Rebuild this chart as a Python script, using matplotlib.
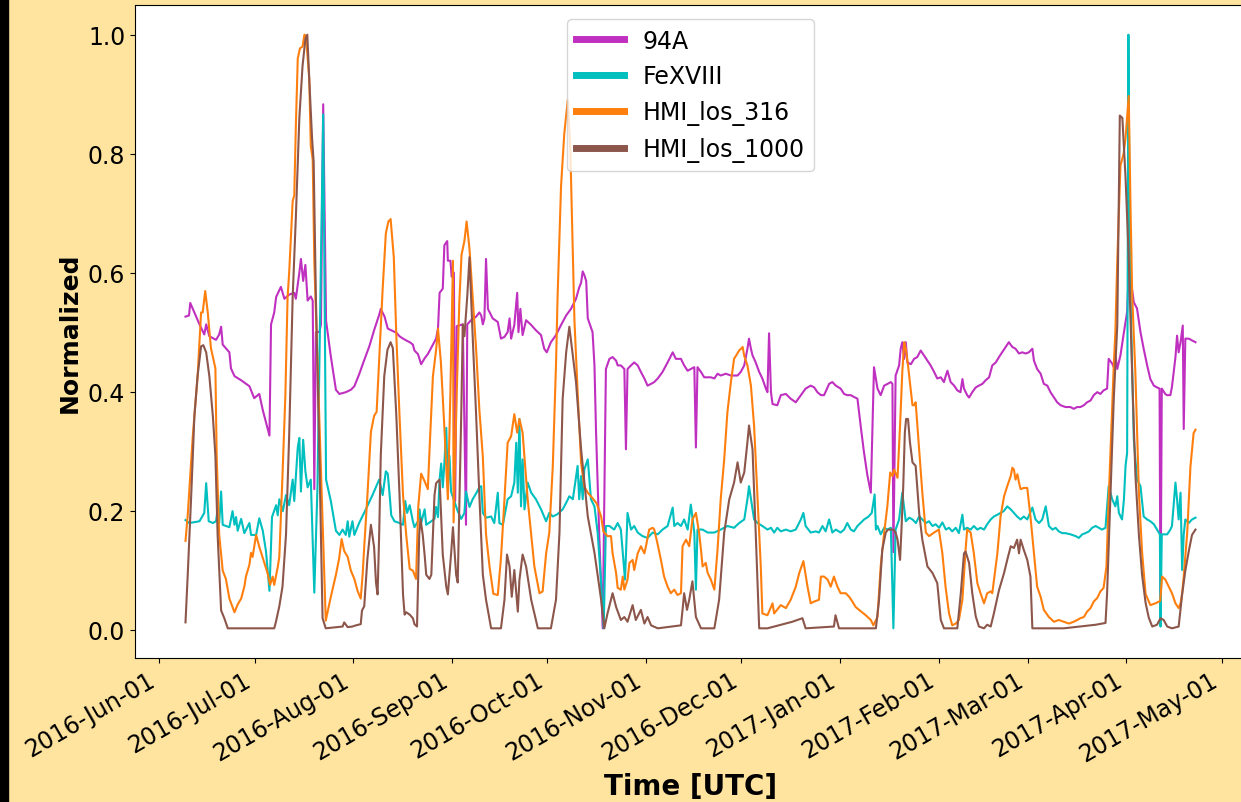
import numpy as np
import matplotlib
matplotlib.use("Agg")
import matplotlib.pyplot as plt
import matplotlib.dates as mdates
from matplotlib.patches import Rectangle

# days since 2016-06-01
t_94a = [8.2, 9.3, 9.7, 12.6, 14.1, 14.7, 15.7, 17.8, 18.8, 19.4, 19.9, 22.0, 22.5, 23.6, 25.7, 28.3, 29.8, 31.4, 32.5, 34.6,
         35.1, 36.1, 36.7, 38.2, 39.3, 40.8, 42.4, 42.9, 44.0, 44.5, 45.2, 45.9, 46.6, 47.6, 48.2, 48.7, 49.2, 50.3, 50.8, 51.5,
         52.4, 53.9, 55.5, 56.6, 58.6, 60.2, 61.3, 62.8, 64.4, 66.0, 67.5, 69.1, 69.6, 70.8, 71.8, 72.9, 74.5, 75.5, 76.6, 77.6,
         78.7, 79.7, 80.2, 81.3, 82.3, 83.4, 84.4, 86.0, 87.0, 87.6, 88.1, 89.1, 89.6, 90.5, 90.7, 91.5, 91.9, 92.6, 93.0, 93.5,
         95.4, 96.4, 96.8, 98.0, 99.6, 100.6, 101.2, 101.7, 102.2, 102.7, 103.3, 104.8, 106.4, 107.4, 108.5, 109.5, 110.1, 110.6,
         111.6, 112.5, 112.9, 113.5, 114.2, 115.3, 116.9, 118.4, 120.0, 121.0, 121.8, 123.1, 124.7, 126.3, 127.9, 129.4, 131.0,
         132.0, 132.6, 133.1, 133.6, 134.2, 134.7, 136.2, 136.8, 137.3, 138.3, 139.4, 140.4, 141.5, 142.5, 143.6, 144.1, 145.1,
         146.2, 146.7, 147.2, 148.3, 149.3, 150.4, 151.4, 152.5, 153.5, 154.6, 155.6, 156.7, 158.2, 159.8, 161.4, 162.4, 164.0,
         165.0, 166.1, 167.1, 168.2, 168.7, 169.2, 170.3, 171.3, 173.4, 174.5, 175.5, 176.5, 178.1, 179.7, 181.8, 182.8, 183.9,
         184.9, 185.4, 186.0, 186.5, 187.5, 188.6, 189.6, 190.7, 191.2, 191.7, 192.3, 192.8, 194.3, 195.4, 197.0, 198.5, 200.1,
         201.7, 203.2, 204.8, 205.9, 206.9, 208.0, 209.0, 210.6, 211.6, 212.7, 214.2, 215.3, 216.3, 217.4, 218.4, 219.5, 220.5,
         221.5, 222.6, 223.7, 224.7, 225.8, 226.8, 227.9, 229.0, 230.0, 230.5, 230.8, 231.5, 232.6, 233.1, 233.6, 234.2, 234.7,
         235.2, 236.3, 237.3, 238.3, 239.4, 240.4, 241.5, 242.5, 243.6, 244.6, 245.7, 246.7, 247.3, 247.8, 248.8, 249.9, 250.9,
         251.9, 252.5, 253.0, 254.0, 254.6, 255.6, 256.7, 257.7, 258.8, 259.8, 260.9, 261.9, 263.0, 264.0, 265.0, 266.1, 267.1,
         268.2, 269.2, 270.3, 271.3, 272.4, 273.4, 274.5, 275.0, 276.0, 277.1, 278.1, 279.2, 280.2, 281.3, 282.3, 283.4, 284.9,
         286.5, 287.5, 288.6, 289.6, 290.7, 291.7, 292.8, 293.8, 294.9, 295.9, 296.9, 298.0, 298.5, 299.6, 300.1, 300.6, 301.2,
         302.2, 303.3, 304.3, 304.8, 305.9, 306.4, 307.4, 308.5, 309.5, 310.6, 311.6, 312.7, 313.7, 314.5, 314.8, 315.2, 316.3,
         316.8, 317.9, 318.4, 319.5, 320.0, 320.5, 321.1, 321.8, 322.1, 322.6, 323.7, 324.7, 325.8]
v_94a = [0.526, 0.528, 0.549, 0.513, 0.496, 0.513, 0.493, 0.487, 0.496, 0.509, 0.479, 0.466, 0.439, 0.426, 0.419, 0.409, 0.389, 0.396, 0.369, 0.326,
         0.513, 0.533, 0.559, 0.576, 0.556, 0.563, 0.566, 0.556, 0.600, 0.623, 0.586, 0.613, 0.553, 0.560, 0.553, 0.236, 0.500, 0.500, 0.513, 0.883,
         0.519, 0.459, 0.403, 0.396, 0.399, 0.403, 0.409, 0.429, 0.453, 0.476, 0.503, 0.529, 0.539, 0.526, 0.506, 0.503, 0.499, 0.493, 0.489, 0.486,
         0.483, 0.479, 0.469, 0.463, 0.446, 0.456, 0.463, 0.479, 0.489, 0.506, 0.566, 0.573, 0.646, 0.653, 0.620, 0.620, 0.593, 0.600, 0.216, 0.510,
         0.513, 0.176, 0.513, 0.520, 0.526, 0.533, 0.528, 0.513, 0.523, 0.623, 0.539, 0.523, 0.517, 0.489, 0.492, 0.500, 0.523, 0.489,
         0.512, 0.566, 0.500, 0.539, 0.495, 0.520, 0.512, 0.503, 0.495, 0.472, 0.466, 0.483, 0.495, 0.512, 0.528, 0.539, 0.556,
         0.575, 0.583, 0.602, 0.596, 0.586, 0.523, 0.500, 0.444, 0.332, 0.160, 0.002, 0.438, 0.455, 0.458, 0.452, 0.444, 0.444,
         0.438, 0.303, 0.438, 0.444, 0.449, 0.444, 0.433, 0.422, 0.410, 0.413, 0.416, 0.422, 0.433, 0.449, 0.466, 0.455, 0.455,
         0.444, 0.435, 0.438, 0.441, 0.306, 0.441, 0.433, 0.424, 0.424, 0.422, 0.430, 0.427, 0.430, 0.427, 0.427, 0.433, 0.444,
         0.472, 0.489, 0.472, 0.461, 0.449, 0.433, 0.422, 0.405, 0.399, 0.498, 0.399, 0.379, 0.377, 0.394, 0.396, 0.388, 0.382,
         0.394, 0.405, 0.410, 0.407, 0.399, 0.394, 0.394, 0.413, 0.416, 0.410, 0.405, 0.396, 0.394, 0.394, 0.391, 0.388, 0.343,
         0.300, 0.260, 0.230, 0.441, 0.405, 0.394, 0.410, 0.413, 0.416, 0.413, 0.130, 0.427, 0.444, 0.472, 0.483, 0.455, 0.483,
         0.449, 0.446, 0.455, 0.458, 0.469, 0.461, 0.452, 0.444, 0.433, 0.422, 0.424, 0.416, 0.427, 0.435, 0.416, 0.410, 0.402,
         0.399, 0.421, 0.405, 0.394, 0.390, 0.399, 0.407, 0.410, 0.413, 0.419, 0.424, 0.444, 0.449, 0.458, 0.466, 0.475, 0.483,
         0.475, 0.472, 0.464, 0.466, 0.464, 0.466, 0.472, 0.452, 0.438, 0.430, 0.413, 0.410, 0.399, 0.390, 0.382, 0.377, 0.374,
         0.374, 0.371, 0.374, 0.374, 0.377, 0.382, 0.385, 0.394, 0.399, 0.396, 0.402, 0.405, 0.455, 0.447, 0.441, 0.461, 0.438,
         0.461, 0.500, 0.534, 0.600, 0.570, 0.550, 0.540, 0.500, 0.472, 0.444, 0.421, 0.410, 0.407, 0.405, 0.010, 0.405, 0.396,
         0.394, 0.394, 0.408, 0.458, 0.494, 0.466, 0.483, 0.511, 0.337, 0.489, 0.489, 0.486, 0.483]

t_fe = [8.2, 9.4, 12.6, 14.1, 14.7, 15.5, 16.8, 17.8, 18.3, 18.8, 19.4, 19.9, 22.0, 23.0, 23.6, 24.1, 24.6, 25.7, 26.7, 28.3,
        28.8, 30.4, 31.4, 32.5, 33.5, 34.6, 35.4, 36.7, 37.2, 37.7, 38.8, 39.8, 40.8, 41.9, 42.4, 43.5, 44.0, 44.5, 45.2, 45.9,
        46.6, 47.6, 48.7, 49.7, 51.5, 52.4, 53.9, 55.5, 56.6, 57.6, 58.6, 59.2, 59.7, 60.7, 61.3, 62.8, 64.9, 67.0, 69.1, 70.2,
        71.2, 71.8, 72.4, 72.9, 73.9, 75.5, 76.6, 77.3, 77.9, 78.7, 79.7, 80.2, 81.3, 81.8, 82.3, 83.4, 83.9, 85.5, 86.5, 87.0,
        87.6, 88.1, 88.6, 89.1, 89.6, 90.2, 90.7, 91.2, 91.7, 93.8, 94.9, 95.9, 96.4, 97.5, 98.5, 99.6, 100.6, 101.2, 101.7, 102.7,
        104.3, 105.3, 106.4, 106.9, 108.0, 109.5, 110.6, 111.6, 112.2, 112.7, 113.2, 113.7, 114.2, 114.8, 115.8, 116.9, 118.4,
        120.0, 121.6, 122.6, 123.7, 125.2, 126.8, 127.9, 128.9, 130.0, 131.5, 132.0, 132.6, 133.1, 133.6, 134.7, 135.7, 136.8,
        137.8, 138.9, 139.7, 140.4, 141.5, 143.0, 144.1, 145.1, 146.4, 147.2, 148.3, 149.3, 150.4, 151.9, 153.5, 155.1, 156.7,
        158.2, 159.8, 161.4, 161.9, 162.9, 164.0, 165.0, 166.1, 167.1, 168.2, 168.7, 169.2, 170.8, 172.4, 174.5, 176.5, 178.6,
        180.7, 182.3, 183.9, 184.9, 185.4, 186.2, 187.0, 188.1, 189.6, 191.2, 192.3, 193.3, 194.3, 195.4, 197.0, 198.5, 200.1,
        201.7, 202.5, 203.2, 204.8, 206.4, 207.4, 208.5, 209.5, 210.6, 211.6, 212.7, 214.2, 215.3, 216.3, 217.4, 218.4, 219.5,
        221.6, 223.0, 224.0, 224.9, 225.3, 225.8, 226.8, 227.9, 228.9, 230.0, 230.8, 231.5, 232.6, 233.6, 234.7, 235.8, 236.8,
        237.9, 238.9, 239.9, 241.0, 242.0, 243.1, 244.1, 245.2, 246.2, 247.3, 248.3, 249.3, 250.4, 251.4, 252.5, 253.0, 254.0,
        255.1, 256.1, 257.2, 258.2, 259.3, 260.3, 261.4, 262.4, 263.5, 264.5, 265.5, 266.6, 267.7, 268.7, 269.7, 270.8, 271.8,
        272.9, 274.5, 275.5, 276.6, 277.6, 278.7, 279.7, 280.8, 281.8, 282.8, 283.9, 284.9, 286.5, 288.1, 289.1, 290.2, 291.2,
        292.3, 293.3, 294.4, 295.4, 296.4, 297.5, 298.5, 299.6, 300.6, 301.2, 301.7, 302.7, 303.3, 303.8, 304.3, 304.7, 304.9,
        305.4, 306.4, 307.4, 308.5, 309.5, 310.6, 311.6, 312.7, 313.7, 314.6, 314.8, 315.2, 316.3, 316.9, 317.9, 318.4, 319.5,
        320.0, 320.5, 321.1, 321.6, 322.1, 322.6, 323.7, 324.7, 325.8]
v_fe = [0.184, 0.179, 0.182, 0.196, 0.246, 0.182, 0.179, 0.182, 0.202, 0.179, 0.232, 0.176, 0.172, 0.199, 0.176, 0.189, 0.166, 0.186, 0.162, 0.179,
        0.159, 0.159, 0.187, 0.166, 0.132, 0.065, 0.189, 0.209, 0.192, 0.219, 0.199, 0.226, 0.209, 0.252, 0.216, 0.306, 0.322, 0.232, 0.319, 0.266,
        0.239, 0.252, 0.062, 0.239, 0.866, 0.252, 0.216, 0.166, 0.159, 0.168, 0.159, 0.182, 0.156, 0.182, 0.159, 0.179, 0.202, 0.226, 0.252, 0.226,
        0.266, 0.262, 0.226, 0.192, 0.182, 0.179, 0.176, 0.216, 0.196, 0.209, 0.182, 0.172, 0.182, 0.202, 0.179, 0.202, 0.176, 0.182, 0.186, 0.206,
        0.189, 0.252, 0.279, 0.239, 0.279, 0.339, 0.239, 0.292, 0.232, 0.199, 0.186, 0.196, 0.232, 0.206, 0.219, 0.229, 0.239, 0.241, 0.196, 0.188,
        0.190, 0.179, 0.230, 0.179, 0.176, 0.219, 0.224, 0.247, 0.314, 0.230, 0.354, 0.207, 0.286, 0.202, 0.247, 0.230, 0.219,
        0.202, 0.182, 0.196, 0.190, 0.194, 0.202, 0.213, 0.224, 0.219, 0.275, 0.219, 0.258, 0.219, 0.269, 0.286, 0.219, 0.207,
        0.163, 0.078, 0.002, 0.174, 0.174, 0.168, 0.179, 0.168, 0.084, 0.196, 0.168, 0.174, 0.163, 0.157, 0.154, 0.163, 0.160,
        0.168, 0.174, 0.205, 0.174, 0.179, 0.174, 0.185, 0.168, 0.210, 0.163, 0.067, 0.168, 0.168, 0.163, 0.163, 0.168, 0.174,
        0.171, 0.179, 0.185, 0.219, 0.241, 0.213, 0.185, 0.179, 0.174, 0.168, 0.171, 0.163, 0.171, 0.165, 0.168, 0.165, 0.168,
        0.185, 0.196, 0.174, 0.163, 0.165, 0.163, 0.174, 0.165, 0.185, 0.163, 0.168, 0.163, 0.168, 0.179, 0.168, 0.165, 0.174,
        0.185, 0.190, 0.196, 0.227, 0.168, 0.174, 0.160, 0.171, 0.168, 0.171, 0.002, 0.168, 0.185, 0.230, 0.182, 0.188, 0.185,
        0.179, 0.190, 0.185, 0.179, 0.182, 0.174, 0.177, 0.171, 0.180, 0.168, 0.171, 0.165, 0.171, 0.162, 0.193, 0.168, 0.171,
        0.168, 0.174, 0.168, 0.171, 0.168, 0.177, 0.185, 0.190, 0.193, 0.196, 0.199, 0.207, 0.202, 0.196, 0.190, 0.185, 0.190,
        0.185, 0.205, 0.185, 0.179, 0.185, 0.207, 0.174, 0.168, 0.171, 0.165, 0.162, 0.162, 0.160, 0.157, 0.154, 0.160, 0.162,
        0.165, 0.171, 0.174, 0.171, 0.168, 0.171, 0.241, 0.219, 0.207, 0.224, 0.196, 0.185, 0.219, 0.275, 0.297, 1.000, 0.826,
        0.550, 0.320, 0.252, 0.241, 0.190, 0.185, 0.182, 0.177, 0.168, 0.160, 0.005, 0.160, 0.160, 0.160, 0.168, 0.174, 0.247,
        0.219, 0.185, 0.230, 0.100, 0.160, 0.185, 0.179, 0.185, 0.188]

t_316 = [8.2, 8.9, 10.5, 12.0, 13.1, 13.6, 14.4, 15.2, 16.2, 17.6, 18.0, 18.8, 19.9, 20.9, 22.0, 23.6, 24.6, 25.7, 26.7, 27.2,
         28.3, 28.8, 29.3, 30.4, 31.4, 33.0, 34.0, 34.8, 35.6, 36.1, 37.2, 37.7, 38.7, 39.6, 40.3, 40.8, 41.9, 42.4, 42.9, 43.5,
         44.2, 45.0, 45.6, 46.1, 47.1, 47.6, 48.2, 48.7, 52.3, 53.9, 55.5, 56.5, 57.3, 58.1, 59.2, 60.2, 61.3, 62.3, 63.3, 63.9,
         64.4, 65.4, 66.5, 67.5, 68.3, 69.1, 70.2, 71.2, 72.0, 72.7, 73.7, 74.5, 75.5, 76.6, 77.6, 78.7, 79.7, 80.7, 81.4, 82.3,
         83.4, 84.4, 85.0, 86.0, 87.0, 87.6, 88.5, 89.5, 90.7, 91.5, 92.3, 92.5, 93.5, 94.3, 95.0, 95.9, 96.6, 97.5, 98.5, 99.6,
         100.6, 101.7, 102.7, 103.8, 105.0, 106.4, 107.4, 108.5, 109.5, 110.6, 111.6, 112.5, 113.2, 114.2, 115.8, 117.9, 119.5,
         120.5, 121.6, 122.6, 123.7, 124.7, 125.2, 126.3, 127.3, 128.4, 129.2, 130.5, 131.5, 132.6, 133.6, 134.7, 136.0, 137.5,
         138.9, 139.6, 140.9, 142.0, 142.5, 143.6, 144.1, 145.1, 145.7, 146.2, 147.2, 147.8, 148.8, 149.3, 150.4, 151.4, 152.5,
         153.0, 154.0, 155.1, 155.6, 156.6, 157.7, 158.7, 159.8, 160.8, 161.9, 162.9, 164.0, 164.5, 165.6, 166.6, 167.6, 168.7,
         169.7, 170.3, 170.8, 171.8, 172.4, 173.4, 174.5, 175.5, 176.5, 177.6, 178.6, 179.7, 180.7, 182.3, 183.4, 183.9, 184.9,
         186.0, 187.0, 188.1, 189.1, 189.6, 191.2, 192.8, 193.3, 195.4, 197.0, 198.5, 200.1, 201.2, 202.5, 203.8, 204.8, 205.9,
         207.4, 208.0, 209.0, 210.1, 211.1, 212.1, 213.2, 214.2, 215.8, 216.9, 217.9, 218.9, 220.0, 222.1, 223.7, 224.5, 225.8,
         226.8, 227.9, 228.9, 229.8, 230.5, 231.0, 232.1, 232.9, 233.6, 234.2, 234.7, 235.4, 236.2, 236.8, 237.3, 237.8, 238.9,
         239.9, 241.0, 242.0, 243.6, 245.1, 246.2, 247.2, 248.3, 249.3, 250.4, 251.4, 252.5, 253.5, 254.0, 255.1, 256.1, 257.2,
         258.2, 259.3, 260.3, 261.4, 261.9, 263.5, 264.5, 265.6, 266.6, 267.7, 268.2, 268.7, 269.2, 269.8, 270.3, 270.8, 271.8,
         272.9, 273.9, 275.0, 276.0, 277.1, 278.1, 279.7, 281.3, 282.8, 284.4, 286.0, 287.5, 288.6, 289.6, 290.7, 291.7, 292.8,
         293.8, 294.9, 295.9, 296.9, 297.8, 298.5, 299.3, 300.1, 300.6, 301.2, 302.2, 303.2, 303.8, 304.8, 305.4, 305.9, 306.9,
         308.0, 309.0, 310.1, 311.6, 313.2, 314.7, 315.3, 316.3, 317.4, 318.4, 319.5, 320.5, 321.1, 321.6, 322.1, 323.2, 324.2,
         325.2, 325.8]
v_316 = [0.149, 0.192, 0.326, 0.426, 0.533, 0.533, 0.569, 0.533, 0.473, 0.439, 0.292, 0.159, 0.099, 0.085, 0.052, 0.029, 0.042, 0.052, 0.072, 0.089,
         0.109, 0.129, 0.122, 0.159, 0.139, 0.112, 0.095, 0.075, 0.089, 0.075, 0.105, 0.122, 0.259, 0.393, 0.559, 0.600, 0.720, 0.730, 0.846, 0.960,
         0.977, 0.980, 1.000, 0.997, 0.927, 0.813, 0.790, 0.620, 0.015, 0.055, 0.092, 0.119, 0.152, 0.132, 0.122, 0.099, 0.085, 0.065, 0.052, 0.092,
         0.139, 0.225, 0.332, 0.359, 0.366, 0.453, 0.573, 0.666, 0.686, 0.690, 0.626, 0.493, 0.359, 0.226, 0.159, 0.102, 0.099, 0.085, 0.207, 0.262,
         0.249, 0.236, 0.309, 0.426, 0.470, 0.506, 0.450, 0.350, 0.219, 0.400, 0.620, 0.180, 0.400, 0.550, 0.630, 0.653, 0.686, 0.640, 0.560, 0.470,
         0.370, 0.290, 0.160, 0.106, 0.060, 0.058, 0.120, 0.219, 0.314, 0.325, 0.362, 0.331, 0.354, 0.331, 0.219, 0.106, 0.061,
         0.064, 0.128, 0.163, 0.275, 0.444, 0.559, 0.746, 0.833, 0.890, 0.810, 0.520, 0.400, 0.280, 0.240, 0.230, 0.222, 0.212,
         0.190, 0.165, 0.157, 0.157, 0.128, 0.095, 0.070, 0.067, 0.089, 0.067, 0.084, 0.112, 0.117, 0.100, 0.128, 0.140, 0.128,
         0.140, 0.168, 0.171, 0.168, 0.145, 0.117, 0.089, 0.072, 0.061, 0.067, 0.058, 0.061, 0.140, 0.151, 0.140, 0.185, 0.196,
         0.163, 0.134, 0.106, 0.112, 0.095, 0.084, 0.067, 0.134, 0.219, 0.286, 0.365, 0.416, 0.455, 0.469, 0.475, 0.460, 0.444,
         0.410, 0.342, 0.219, 0.106, 0.027, 0.024, 0.044, 0.027, 0.041, 0.036, 0.050, 0.072, 0.095, 0.115, 0.072, 0.044, 0.047,
         0.050, 0.089, 0.089, 0.084, 0.072, 0.089, 0.072, 0.061, 0.061, 0.055, 0.047, 0.038, 0.033, 0.024, 0.016, 0.007, 0.021,
         0.106, 0.163, 0.207, 0.264, 0.258, 0.269, 0.255, 0.343, 0.433, 0.483, 0.472, 0.444, 0.405, 0.377, 0.377, 0.382, 0.303,
         0.230, 0.163, 0.157, 0.163, 0.168, 0.128, 0.072, 0.027, 0.007, 0.010, 0.016, 0.050, 0.134, 0.168, 0.163, 0.128, 0.078,
         0.061, 0.044, 0.061, 0.064, 0.061, 0.128, 0.190, 0.224, 0.241, 0.258, 0.272, 0.269, 0.252, 0.261, 0.247, 0.236, 0.238,
         0.238, 0.190, 0.128, 0.072, 0.055, 0.033, 0.021, 0.013, 0.016, 0.013, 0.010, 0.013, 0.016, 0.019, 0.021, 0.030, 0.036,
         0.047, 0.053, 0.064, 0.070, 0.106, 0.219, 0.332, 0.444, 0.500, 0.620, 0.780, 0.800, 0.826, 0.897, 0.700, 0.560, 0.430,
         0.230, 0.130, 0.060, 0.041, 0.044, 0.048, 0.089, 0.084, 0.072, 0.061, 0.044, 0.036, 0.044, 0.061, 0.089, 0.163, 0.273,
         0.330, 0.336]

t_1000 = [8.2, 8.9, 10.0, 11.0, 12.0, 13.1, 13.8, 14.7, 15.7, 16.8, 17.6, 18.3, 19.4, 20.4, 21.5, 36.1, 36.6, 37.7, 38.7, 39.8,
          40.8, 41.9, 42.9, 44.0, 45.0, 45.9, 46.5, 47.1, 48.0, 48.5, 49.2, 50.3, 51.3, 52.3, 57.6, 58.1, 59.2, 60.7, 61.8, 63.3,
          63.7, 64.4, 65.4, 66.5, 67.5, 68.1, 68.6, 69.1, 69.6, 70.7, 71.7, 72.7, 73.4, 74.5, 75.5, 76.6, 77.1, 77.6, 78.7, 79.7,
          80.2, 81.0, 81.7, 82.1, 82.8, 83.4, 83.9, 84.9, 85.5, 86.5, 87.0, 88.1, 89.1, 90.2, 90.7, 91.7, 92.3, 93.3, 93.8, 94.9,
          95.4, 95.9, 96.8, 97.5, 98.5, 99.6, 100.6, 101.7, 102.7, 104.3, 107.4, 108.5, 109.3, 110.1, 110.8, 111.6, 112.7, 113.2,
          114.2, 115.3, 116.9, 119.0, 123.1, 124.7, 125.8, 126.8, 127.9, 128.9, 131.0, 132.6, 134.7, 136.8, 138.9, 139.9, 140.9,
          142.5, 143.6, 145.1, 146.2, 147.2, 148.8, 149.8, 151.4, 152.5, 153.5, 154.6, 156.7, 164.0, 164.5, 165.0, 165.9, 166.6,
          167.6, 168.7, 170.3, 174.5, 176.0, 177.6, 179.2, 180.7, 181.8, 182.8, 183.9, 184.9, 185.4, 186.5, 187.5, 188.6, 191.2,
          199.0, 202.2, 203.2, 212.1, 212.6, 213.7, 225.3, 226.3, 227.3, 228.4, 229.1, 230.0, 230.8, 231.5, 232.1, 232.9, 233.3,
          233.9, 234.4, 234.8, 235.4, 236.0, 236.8, 237.8, 238.9, 239.9, 241.5, 243.1, 244.6, 245.7, 246.7, 250.9, 252.0, 253.0,
          253.5, 254.6, 255.6, 256.7, 257.7, 259.3, 260.3, 261.4, 262.4, 264.0, 265.6, 266.6, 267.7, 268.7, 269.7, 270.3, 270.8,
          271.8, 272.9, 273.9, 274.5, 284.4, 294.4, 297.5, 298.0, 299.0, 300.1, 301.2, 302.0, 302.8, 303.8, 304.8, 305.9, 306.9,
          308.0, 309.0, 310.1, 311.1, 312.2, 313.7, 314.8, 315.8, 316.9, 318.4, 320.5, 321.6, 322.6, 323.7, 324.7, 325.8]
v_1000 = [0.012, 0.092, 0.226, 0.359, 0.426, 0.476, 0.478, 0.466, 0.426, 0.359, 0.292, 0.159, 0.032, 0.019, 0.002, 0.002, 0.012, 0.039, 0.072, 0.159,
          0.326, 0.559, 0.693, 0.860, 0.947, 0.993, 1.000, 0.927, 0.826, 0.786, 0.559, 0.292, 0.019, 0.002, 0.005, 0.012, 0.004, 0.005, 0.007, 0.009,
          0.032, 0.039, 0.119, 0.176, 0.139, 0.079, 0.059, 0.159, 0.292, 0.426, 0.470, 0.483, 0.473, 0.359, 0.226, 0.059, 0.025, 0.029, 0.025, 0.019,
          0.009, 0.005, 0.160, 0.186, 0.159, 0.125, 0.092, 0.085, 0.092, 0.226, 0.246, 0.252, 0.126, 0.072, 0.059, 0.126, 0.172, 0.092, 0.079, 0.359,
          0.513, 0.493, 0.560, 0.626, 0.493, 0.359, 0.226, 0.092, 0.050, 0.002, 0.002, 0.050, 0.126, 0.106, 0.055, 0.100, 0.030, 0.083,
          0.126, 0.106, 0.050, 0.002, 0.002, 0.050, 0.163, 0.388, 0.466, 0.509, 0.416, 0.303, 0.190, 0.129, 0.050, 0.002, 0.027,
          0.061, 0.038, 0.016, 0.021, 0.013, 0.041, 0.016, 0.033, 0.010, 0.021, 0.007, 0.002, 0.007, 0.033, 0.061, 0.033, 0.050,
          0.081, 0.021, 0.002, 0.002, 0.050, 0.163, 0.219, 0.247, 0.281, 0.247, 0.264, 0.315, 0.343, 0.303, 0.163, 0.002, 0.002,
          0.013, 0.019, 0.002, 0.005, 0.024, 0.002, 0.002, 0.050, 0.134, 0.163, 0.168, 0.168, 0.168, 0.163, 0.151, 0.117, 0.163,
          0.241, 0.331, 0.354, 0.354, 0.315, 0.281, 0.275, 0.196, 0.151, 0.106, 0.095, 0.078, 0.016, 0.002, 0.002, 0.061, 0.128,
          0.131, 0.112, 0.061, 0.022, 0.005, 0.002, 0.008, 0.005, 0.027, 0.066, 0.095, 0.117, 0.140, 0.137, 0.151, 0.128, 0.151,
          0.134, 0.117, 0.089, 0.002, 0.002, 0.008, 0.011, 0.061, 0.219, 0.388, 0.511, 0.864, 0.860, 0.760, 0.626, 0.426, 0.260,
          0.159, 0.092, 0.045, 0.020, 0.005, 0.008, 0.019, 0.016, 0.005, 0.002, 0.005, 0.059, 0.099, 0.132, 0.159, 0.168]


def to_dates(days):
    base = np.datetime64("2016-06-01T00:00")
    return base + np.round(np.array(days) * 1440).astype("timedelta64[m]")


fig = plt.figure(figsize=(12.41, 8.03), dpi=100, facecolor="#FFE4A0")
fig.patches.append(Rectangle((0, 0), 8 / 1241, 1, transform=fig.transFigure, color="black", zorder=0))
ax = fig.add_axes([135 / 1241, 1 - 659 / 803, 1111 / 1241, 653 / 803])

ax.plot(to_dates(t_94a), v_94a, color="#C030C0", lw=1.5, label="94A")
ax.plot(to_dates(t_fe), v_fe, color="#00BFBF", lw=1.5, label="FeXVIII")
ax.plot(to_dates(t_316), v_316, color="#FF7F0E", lw=1.5, label="HMI_los_316")
ax.plot(to_dates(t_1000), v_1000, color="#8C564B", lw=1.5, label="HMI_los_1000")

ax.xaxis.set_major_locator(mdates.MonthLocator())
ax.xaxis.set_major_formatter(mdates.DateFormatter("%Y-%b-%d"))
ax.tick_params(labelsize=17)
plt.setp(ax.get_xticklabels(), rotation=30, ha="right")

ax.set_xlabel("Time [UTC]", fontsize=20, fontweight="bold")
ax.set_ylabel("Normalized", fontsize=18, fontweight="bold")

leg = ax.legend(loc="upper center", fontsize=17, borderaxespad=0.6)
for line in leg.get_lines():
    line.set_linewidth(5)

fig.savefig("out.png", dpi=100, facecolor=fig.get_facecolor())
